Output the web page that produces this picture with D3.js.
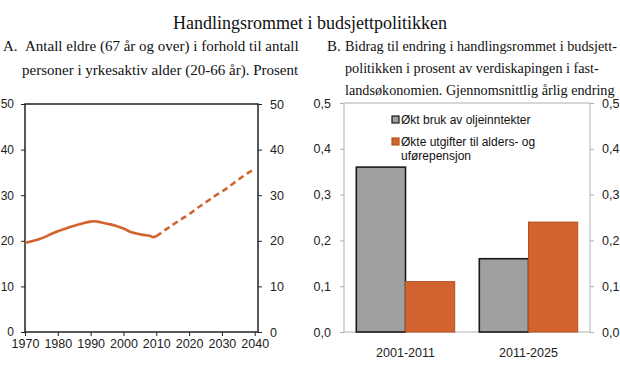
<!DOCTYPE html>
<html><head><meta charset="utf-8">
<script src="https://cdn.jsdelivr.net/npm/d3@7"></script>
<style>
html,body{margin:0;padding:0;background:#fff;}
svg{display:block;}
</style></head>
<body>
<script>
// ---- Data ----
const titleText = "Handlingsrommet i budsjettpolitikken";
const subtitleA = ["Antall eldre (67 år og over) i forhold til antall", "personer i yrkesaktiv alder (20-66 år). Prosent"];
const subtitleB = ["Bidrag til endring i handlingsrommet i budsjett-", "politikken i prosent av verdiskapingen i fast-", "landsøkonomien. Gjennomsnittlig årlig endring"];

const histYears  = [1970,1972,1974,1976,1978,1980,1982,1984,1986,1988,1990,1991,1992,1994,1996,1998,2000,2002,2004,2006,2008,2009,2010];
const histValues = [19.5,19.9,20.3,20.8,21.5,22.1,22.6,23.1,23.5,23.9,24.2,24.3,24.2,23.9,23.6,23.2,22.7,22.0,21.6,21.3,21.1,20.8,21.0];
const projYears  = [2010,2012,2015,2018,2020,2022,2025,2028,2030,2032,2035,2038,2040];
const projValues = [21.0,22.0,23.5,24.9,25.8,26.9,28.4,29.9,30.8,31.8,33.4,34.9,35.8];
const yearTicks  = [1970,1980,1990,2000,2010,2020,2030,2040];
const pctTicks   = [0,10,20,30,40,50];

const periods    = ["2001-2011","2011-2025"];
const seriesNames = ["Økt bruk av oljeinntekter","Økte utgifter til alders- og uførepensjon"];
const oilValues     = [0.36,0.16];
const pensionValues = [0.11,0.24];
const shareTicks = [0,0.1,0.2,0.3,0.4,0.5];

// ---- Chart ----
const W=620,H=381;
const svg=d3.select("body").append("svg").attr("width",W).attr("height",H);
const serif="'Liberation Serif','Times New Roman',serif";
const sans="'Liberation Sans',Arial,sans-serif";
const orange="#d2622e";

svg.append("text").attr("x",310).attr("y",29).attr("text-anchor","middle")
  .attr("font-family",serif).attr("font-size",18).attr("fill","#111").text(titleText);

function txt(x,y,s,size){
  return svg.append("text").attr("x",x).attr("y",y).attr("font-family",serif)
    .attr("font-size",size).attr("fill","#111").text(s);
}
// Subtitle A
txt(3,51,"A.",15);
txt(25,51,subtitleA[0],15);
txt(22,75,subtitleA[1],15);
// Subtitle B
txt(327,51,"B.",15);
txt(345,51,subtitleB[0],14.2);
txt(345,73,subtitleB[1],14.2);
txt(345,95,subtitleB[2],14.2);

// ---- Panel A ----
const ax0=25, ax1=258, ay0=104, ay1=332;
const xA=d3.scaleLinear().domain([1970,2041]).range([ax0,ax1]);
const yA=d3.scaleLinear().domain([0,50]).range([ay1,ay0]);
const gA=svg.append("g");
function styleAxis(g,color,size){
  g.selectAll("path").remove();
  g.selectAll("line").attr("stroke",color).attr("stroke-width",1);
  g.selectAll("text").attr("font-family",sans).attr("font-size",size||12.5).attr("fill","#222");
}
gA.append("g").attr("transform",`translate(${ax0},0)`)
  .call(d3.axisLeft(yA).tickValues(pctTicks).tickSize(4).tickPadding(7).tickFormat(d3.format("d")))
  .call(g=>styleAxis(g,"#222",12));
gA.append("g").attr("transform",`translate(${ax1},0)`)
  .call(d3.axisRight(yA).tickValues(pctTicks).tickSize(4).tickPadding(8).tickFormat(d3.format("d")))
  .call(g=>styleAxis(g,"#222"));
gA.append("g").attr("transform",`translate(0,${ay1})`)
  .call(d3.axisBottom(xA).tickValues(yearTicks).tickSize(4).tickPadding(3).tickFormat(d3.format("d")))
  .call(g=>styleAxis(g,"#222"));
gA.append("rect").attr("x",ax0).attr("y",ay0).attr("width",ax1-ax0).attr("height",ay1-ay0)
  .attr("fill","none").attr("stroke","#222").attr("stroke-width",1.5);
const lineA=d3.line().x(d=>xA(d[0])).y(d=>yA(d[1])).curve(d3.curveMonotoneX);
gA.append("path").datum(histYears.map((y,i)=>[y,histValues[i]])).attr("d",lineA)
  .attr("fill","none").attr("stroke",orange).attr("stroke-width",2.6);
gA.append("path").datum(projYears.map((y,i)=>[y,projValues[i]])).attr("d",lineA)
  .attr("fill","none").attr("stroke",orange).attr("stroke-width",2.6).attr("stroke-dasharray","6,4");

// ---- Panel B ----
const bx0=344, bx1=590, by0=103, by1=332;
const xB=d3.scaleBand().domain(periods).range([bx0,bx1]).paddingInner(0.2).paddingOuter(0.1);
const xS=d3.scaleBand().domain([0,1]).range([0,xB.bandwidth()]);
const yB=d3.scaleLinear().domain([0,0.5]).range([by1,by0]);
const gB=svg.append("g");
const grey="#b0b0b0";
const fmtB=d=>d3.format(".1f")(d).replace(".",",");
gB.append("g").attr("transform",`translate(${bx0},0)`)
  .call(d3.axisLeft(yB).tickValues(shareTicks).tickSize(4).tickPadding(9).tickFormat(fmtB))
  .call(g=>styleAxis(g,grey));
gB.append("g").attr("transform",`translate(${bx1},0)`)
  .call(d3.axisRight(yB).tickValues(shareTicks).tickSize(4).tickPadding(8).tickFormat(fmtB))
  .call(g=>styleAxis(g,grey));
gB.append("rect").attr("x",bx0).attr("y",by0).attr("width",bx1-bx0).attr("height",by1-by0)
  .attr("fill","none").attr("stroke",grey).attr("stroke-width",1);
const seriesVals=[oilValues,pensionValues];
const fills=["#a0a0a0",orange];
const strokes=["#1a1a1a","#b4501f"];
seriesVals.forEach((vals,s)=>{
  gB.selectAll(null).data(periods).enter().append("rect")
    .attr("x",d=>xB(d)+xS(s)).attr("width",xS.bandwidth())
    .attr("y",(d,i)=>yB(vals[i])).attr("height",(d,i)=>yB(0)-yB(vals[i]))
    .attr("fill",fills[s]).attr("stroke",strokes[s]).attr("stroke-width",s===0?1.6:1);
});
gB.append("g").attr("transform",`translate(0,${by1})`)
  .call(d3.axisBottom(xB).tickSize(0).tickPadding(16))
  .call(g=>styleAxis(g,grey));
// Legend
const leg=gB.append("g");
const legY=[120,142];
seriesNames.forEach((n,i)=>{
  leg.append("rect").attr("x",392).attr("y",legY[i]-4).attr("width",7).attr("height",7)
    .attr("fill",fills[i]).attr("stroke",strokes[i]).attr("stroke-width",1.2);
  const t=leg.append("text").attr("font-family",sans).attr("font-size",12).attr("fill","#111");
  if(i===1){
    t.append("tspan").attr("x",401).attr("y",legY[i]+4).text("Økte utgifter til alders- og");
    t.append("tspan").attr("x",401).attr("y",legY[i]+18).text("uførepensjon");
  } else {
    t.append("tspan").attr("x",401).attr("y",legY[i]+4).text(n);
  }
});
</script>
</body></html>
